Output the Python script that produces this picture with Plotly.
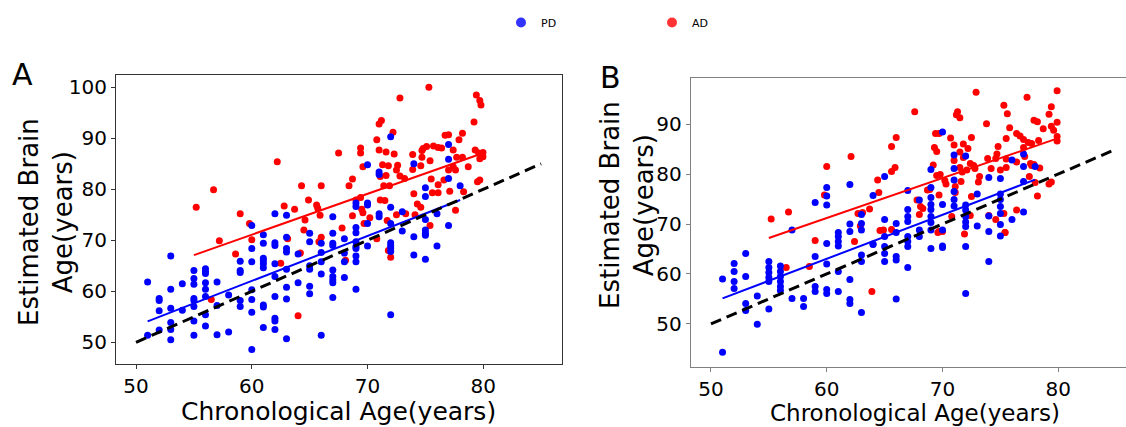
import plotly.graph_objects as go

# ---------------- Panel A data ----------------
a_pd_x = [51, 51,
          52, 52, 52, 52,
          53, 53, 53, 53, 53, 53,
          54, 54,
          55, 55, 55, 55, 55, 55, 55, 55,
          56, 56, 56, 56, 56, 56, 56, 56,
          57, 57, 57,
          58, 58,
          59, 59, 59, 59, 59,
          60, 60, 60, 60, 60, 60, 60,
          61, 61, 61, 61, 61, 61, 61, 61, 61,
          62, 62, 62, 62, 62, 62, 62, 62, 62,
          63, 63, 63, 63, 63, 63, 63, 63,
          64, 64,
          65, 65, 65, 65, 65, 65,
          66, 66, 66, 66, 66,
          67, 67, 67, 67, 67, 67, 67, 67, 67,
          68, 68, 68, 68,
          69, 69, 69, 69, 69, 69, 69, 69, 69, 69,
          70, 70, 70, 70, 70,
          71, 71, 71, 71,
          72, 72, 72, 72, 72, 72, 72, 72,
          73, 73,
          74, 74, 74,
          75, 75, 75, 75, 75, 75, 75,
          76, 76,
          77, 77, 77, 77,
          78]
a_pd_y = [61.8, 51.4,
          58.6, 58.2, 56.2, 52.4,
          66.9, 60.4, 56.7, 53.9, 52.5, 50.5,
          61.5, 56.3,
          64.1, 62.5, 61.4, 58.6, 58.2, 57.0, 54.2, 51.4,
          64.4, 63.9, 63.5, 61.7, 60.4, 59.0, 55.4, 53.2,
          61.8, 57.2, 51.5,
          59.3, 52.0,
          65.9, 64.1, 63.7, 58.2, 57.0,
          72.9, 68.4, 65.8, 60.3, 58.4, 55.9, 48.6,
          71.1, 69.4, 66.5, 66.0, 65.4, 64.6, 57.3, 56.9, 52.9,
          75.2, 69.5, 69.0, 65.4, 62.9, 59.0, 54.7, 54.2, 52.5,
          74.9, 70.6, 68.4, 67.7, 64.3, 60.8, 58.5, 50.7,
          67.3, 61.7,
          71.4, 69.7, 65.0, 64.3, 61.0, 59.5,
          69.4, 67.6, 65.8, 63.4, 51.4,
          74.6, 71.4, 69.4, 69.0, 64.2, 62.9, 62.2, 61.7, 58.8,
          70.3, 67.5, 65.8, 62.7,
          77.3, 76.6, 72.5, 71.5, 69.7, 68.8, 68.4, 66.9, 65.8, 60.4,
          84.8, 77.3, 76.9, 73.3, 68.9,
          83.4, 82.9, 75.2, 74.6,
          90.3, 76.5, 73.3, 69.5, 69.0, 68.5, 67.8, 55.4,
          75.6, 71.8,
          85.0, 70.7, 67.1,
          80.3, 78.6, 74.1, 72.0, 71.4, 71.0, 66.3,
          75.2, 68.9,
          88.8, 85.9, 82.1, 72.9,
          80.7]

a_ad_x = [55.2, 56.7, 57.2, 56.5, 58.6, 59.0, 59.8, 60.0, 62.2, 62.5,
          62.8, 63.1, 63.7, 64.0, 64.2, 64.3, 64.5, 64.6, 64.9, 65.6,
          65.7, 65.9, 66.0, 66.0, 65.8, 67.5, 67.8, 68.1, 68.4, 68.7,
          68.7, 69.0, 69.4, 69.4, 69.4, 69.5, 69.6, 69.7, 69.6, 70.2,
          70.8, 70.8, 71.0, 71.2, 71.0, 71.1, 71.1, 71.5, 71.3, 71.4,
          71.6, 71.6, 71.8, 71.9, 71.8, 72.0, 71.7, 72.2, 72.3, 72.5,
          72.6, 72.8, 72.8, 72.5, 73.2, 73.3, 73.9, 73.9, 74.0, 74.1,
          74.3, 74.6, 74.7, 74.7, 74.6, 75.3, 75.4, 75.5, 75.6, 75.4,
          74.8, 75.1, 75.7, 76.1, 76.4, 76.1, 76.1, 76.6, 76.7, 77.0,
          77.0, 77.1, 77.4, 77.4, 77.6, 77.6, 77.7, 77.9, 78.2, 78.2,
          78.3, 78.7, 79.2, 79.3, 79.6, 79.4, 79.7, 79.8, 79.7, 79.97,
          79.5, 79.7, 79.97]
a_ad_y = [76.5, 79.9, 69.9, 58.4, 67.3, 75.2, 73.3, 70.1, 85.4, 65.5,
          76.7, 70.3, 76.1, 55.2, 67.5, 80.7, 72.0, 74.0, 77.9, 76.9,
          76.3, 74.9, 80.7, 70.6, 69.7, 87.1, 72.4, 66.1, 80.7, 82.0,
          74.8, 77.9, 88.1, 87.1, 78.4, 76.1, 75.4, 73.3, 84.4, 74.4,
          70.3, 89.7, 92.8, 93.5, 87.7, 82.5, 77.9, 77.8, 84.8, 80.7,
          82.7, 87.3, 84.6, 80.7, 68.0, 66.7, 73.9, 91.2, 86.9, 83.8,
          84.7, 97.9, 82.6, 75.0, 82.1, 75.2, 86.8, 83.9, 79.1, 75.0,
          77.1, 76.5, 87.6, 86.3, 84.6, 100.0, 85.6, 82.0, 79.3, 72.9,
          88.0, 88.4, 88.5, 88.2, 88.1, 80.9, 79.3, 81.8, 90.6, 90.7,
          83.8, 79.6, 87.7, 84.4, 83.8, 75.9, 86.3, 89.7, 91.0, 86.3,
          79.5, 84.4, 93.2, 87.7, 87.1, 98.5, 97.4, 96.5, 86.0, 86.4,
          81.5, 81.8, 87.2]

# regression lines (endpoints)
a_pd_fit_x = [51, 78]
a_pd_fit_y = [54.1, 77.9]
a_ad_fit_x = [55, 80]
a_ad_fit_y = [67.1, 87.1]

# ---------------- Panel B data ----------------
b_pd_x = [51, 51,
          52, 52, 52, 52,
          53, 53, 53, 53,
          54, 54,
          55, 55, 55, 55, 55, 55,
          56, 56, 56, 56, 56, 56,
          57, 57,
          58, 58,
          59, 59, 59, 59,
          60, 60, 60, 60, 60, 60, 60,
          61, 61, 61, 61, 61, 61,
          62, 62, 62, 62, 62, 62,
          63, 63, 63, 63, 63, 63,
          64, 64, 64,
          65, 65, 65, 65, 65, 65,
          66, 66, 66, 66, 66,
          67, 67, 67, 67, 67, 67, 67, 67,
          68, 68, 68,
          69, 69, 69, 69, 69, 69, 69, 69, 69,
          70, 70, 70, 70, 70,
          71, 71, 71, 71, 71, 71,
          72, 72, 72, 72, 72, 72, 72, 72,
          73, 73,
          74, 74, 74, 74,
          75, 75, 75, 75, 75, 75, 75,
          76, 76,
          77, 77, 77, 77,
          78]
b_pd_y = [59.0, 44.3,
          62.1, 60.5, 58.5, 57.1,
          64.1, 59.5, 54.1, 52.7,
          55.6, 49.9,
          62.5, 61.3, 60.3, 59.3, 58.5, 53.0,
          61.6, 60.5, 59.5, 58.5, 57.5, 56.7,
          55.1, 68.8,
          55.1, 53.5,
          74.3, 63.5, 57.5, 56.5,
          77.3, 75.6, 73.8, 66.1, 62.0, 56.9, 56.1,
          68.3, 67.5, 66.5, 65.6, 60.5, 56.5,
          77.9, 70.0, 68.5, 58.9, 54.9, 54.1,
          52.3, 62.5, 63.8, 71.9, 70.1, 68.8,
          66.0, 75.7, 65.9,
          62.5, 65.5, 64.1, 79.5, 70.9, 67.5,
          55.0, 63.5, 62.8, 70.1, 68.3,
          61.3, 65.5, 66.5, 67.5, 76.7, 72.9, 71.5, 70.5,
          67.5, 74.8, 68.8,
          65.1, 80.9, 77.3, 75.3, 73.9, 72.9, 71.5, 70.3, 68.8,
          65.6, 88.4, 73.9, 68.8, 65.3,
          83.8, 81.1, 78.8, 76.5, 74.9, 73.6,
          65.5, 56.1, 83.6, 73.8, 72.8, 71.5, 70.4, 69.5,
          76.0, 69.6,
          62.5, 79.3, 71.6, 68.5,
          67.6, 79.1, 76.0, 74.9, 73.5, 72.1, 69.9,
          82.8, 70.9,
          84.0, 81.5, 78.5, 72.4,
          81.5]

b_ad_x = [55.2, 56.7, 59.0, 59.8, 60.0, 62.1, 62.4, 62.7, 56.5, 58.5,
          63.9, 71.9, 75.4, 69.6, 64.6,
          72.9, 67.6, 77.3, 79.9, 75.3, 75.6, 79.4, 79.2, 71.3, 71.2,
          71.5, 73.8, 77.9, 78.2, 75.8, 78.7, 79.4, 79.9, 79.6, 79.9,
          79.9, 76.4, 76.7, 77.0, 77.4, 75.5, 66.0, 65.6, 69.4, 69.7,
          70.7, 72.5, 71.0, 71.8, 72.2, 69.3, 69.5, 74.8, 77.0, 77.7,
          78.3, 74.7, 74.6, 71.5, 71.0, 71.8, 73.9, 72.4, 72.7, 72.8,
          75.5, 76.4, 77.1, 77.7, 78.4, 74.2, 75.0, 75.5, 77.6, 77.9,
          65.6, 65.9, 64.4, 64.5, 63.7, 69.2, 69.5, 69.8, 68.9, 69.7,
          70.3, 71.1, 71.6, 71.1, 71.5, 71.7, 72.1, 73.2, 73.1, 67.8,
          68.1, 68.3, 68.0, 68.7, 70.2, 72.5, 72.4, 70.8, 70.0, 69.7,
          74.0, 74.6, 75.4, 75.3, 76.4, 77.5, 78.0, 79.2, 79.4, 78.2,
          62.9, 63.1, 64.9, 65.6]
b_ad_y = [71.0, 72.4, 66.7, 75.8, 81.5, 83.5, 66.5, 72.1, 61.3, 61.5,
          56.5, 68.0, 68.3, 68.3, 68.7,
          96.4, 92.5, 95.4, 96.7, 93.8, 92.1, 93.5, 92.0, 92.5, 91.9,
          91.3, 90.1, 90.8, 90.5, 89.3, 89.1, 89.6, 90.4, 88.8, 87.5,
          86.6, 88.1, 87.6, 86.9, 86.3, 87.1, 87.3, 85.5, 88.1, 88.1,
          87.2, 87.3, 85.8, 86.0, 85.1, 85.3, 84.5, 85.5, 85.3, 86.1,
          86.7, 84.0, 83.1, 84.4, 82.7, 83.3, 83.1, 82.1, 81.7, 81.1,
          83.0, 82.4, 83.5, 81.7, 81.2, 81.1, 80.8, 81.3, 82.1, 81.9,
          80.5, 81.3, 78.8, 76.3, 73.0, 81.8, 79.7, 79.9, 76.9, 75.8,
          78.0, 77.5, 78.5, 76.3, 81.3, 80.4, 80.8, 79.5, 78.4, 74.8,
          73.5, 73.1, 71.9, 76.8, 78.7, 75.5, 71.7, 71.5, 68.5, 68.5,
          71.7, 70.9, 68.3, 72.1, 72.8, 79.5, 78.3, 78.0, 78.4, 75.6,
          69.6, 72.3, 68.8, 68.9]

b_pd_fit_x = [51, 78]
b_pd_fit_y = [55.1, 78.9]
b_ad_fit_x = [55, 80]
b_ad_fit_y = [67.2, 87.2]

identity_x = [50, 85]
identity_y = [50, 85]

x_ticks = [50, 60, 70, 80]
a_y_ticks = [50, 60, 70, 80, 90, 100]
b_y_ticks = [50, 60, 70, 80, 90]

BLUE = "#0000ff"
RED = "#ff0000"
FONT = "DejaVu Sans"

fig = go.Figure()

def add_panel(xa, ya, pd_x, pd_y, ad_x, ad_y, pdfx, pdfy, adfx, adfy):
    fig.add_trace(go.Scatter(x=ad_x, y=ad_y, mode="markers", name="AD",
                             marker=dict(color=RED, size=7, line=dict(width=0)),
                             xaxis=xa, yaxis=ya, showlegend=False))
    fig.add_trace(go.Scatter(x=pd_x, y=pd_y, mode="markers", name="PD",
                             marker=dict(color=BLUE, size=7, line=dict(width=0)),
                             xaxis=xa, yaxis=ya, showlegend=False))
    fig.add_trace(go.Scatter(x=adfx, y=adfy, mode="lines", line=dict(color=RED, width=2),
                             xaxis=xa, yaxis=ya, showlegend=False))
    fig.add_trace(go.Scatter(x=pdfx, y=pdfy, mode="lines", line=dict(color=BLUE, width=2),
                             xaxis=xa, yaxis=ya, showlegend=False))
    fig.add_trace(go.Scatter(x=identity_x, y=identity_y, mode="lines",
                             line=dict(color="black", width=3, dash="11px,6px"),
                             xaxis=xa, yaxis=ya, showlegend=False))

add_panel("x", "y", a_pd_x, a_pd_y, a_ad_x, a_ad_y,
          a_pd_fit_x, a_pd_fit_y, a_ad_fit_x, a_ad_fit_y)
add_panel("x2", "y2", b_pd_x, b_pd_y, b_ad_x, b_ad_y,
          b_pd_fit_x, b_pd_fit_y, b_ad_fit_x, b_ad_fit_y)

# legend entries
fig.add_trace(go.Scatter(x=[None], y=[None], mode="markers", name="PD",
                         marker=dict(color=BLUE, size=10, opacity=0.8), showlegend=True))
fig.add_trace(go.Scatter(x=[None], y=[None], mode="markers", name="AD",
                         marker=dict(color=RED, size=10, opacity=0.8), showlegend=True))

W, H = 1126, 427
def px_x(p):
    return p / W
def px_y(p):
    return 1 - p / H

axis_common = dict(showgrid=False, zeroline=False, showline=True, mirror=True,
                   ticks="outside", ticklen=4, tickwidth=1,
                   tickfont=dict(family=FONT, size=20, color="black"))

fig.update_layout(
    width=W, height=H,
    margin=dict(l=0, r=0, t=0, b=0),
    paper_bgcolor="white", plot_bgcolor="white",
    font=dict(family=FONT, color="black"),
    showlegend=True,
    legend=dict(orientation="h", x=px_x(501), y=px_y(8), xanchor="left", yanchor="top",
                entrywidth=106, entrywidthmode="pixels",
                font=dict(family=FONT, size=11, color="black"),
                bgcolor="rgba(0,0,0,0)"),
    xaxis=dict(domain=[px_x(116), px_x(562)], range=[48.27, 86.8],
               tickvals=x_ticks, anchor="y", linecolor="#333333", tickcolor="#333333",
               **axis_common),
    yaxis=dict(domain=[px_y(364), px_y(74.5)], range=[45.75, 102.5],
               tickvals=a_y_ticks, anchor="x", linecolor="#333333", tickcolor="#333333",
               **axis_common),
    xaxis2=dict(domain=[px_x(690.7), 1.0], range=[48.25, 85.85],
                tickvals=x_ticks, anchor="y2", linecolor="#808080", tickcolor="#808080",
                **axis_common),
    yaxis2=dict(domain=[px_y(367.3), px_y(77.7)], range=[41.3, 99.3],
                tickvals=b_y_ticks, anchor="x2", linecolor="#808080", tickcolor="#808080",
                **axis_common),
)

common_ann = dict(xref="paper", yref="paper", showarrow=False,
                  xanchor="center", yanchor="middle", borderpad=0)
fig.add_annotation(text="Estimated Brain<br>Age(years)", textangle=-90,
                   x=px_x(46), y=px_y(222), font=dict(family=FONT, size=26, color="black"),
                   **common_ann)
fig.add_annotation(text="Estimated Brain<br>Age(years)", textangle=-90,
                   x=px_x(627), y=px_y(205), font=dict(family=FONT, size=26, color="black"),
                   **common_ann)
fig.add_annotation(text="Chronological Age(years)",
                   x=px_x(338), y=px_y(411), font=dict(family=FONT, size=25, color="black"),
                   **common_ann)
fig.add_annotation(text="Chronological Age(years)",
                   x=px_x(915), y=px_y(413), font=dict(family=FONT, size=23, color="black"),
                   **common_ann)
fig.add_annotation(text="A", x=px_x(22), y=px_y(75),
                   font=dict(family=FONT, size=30, color="black"), **common_ann)
fig.add_annotation(text="B", x=px_x(610), y=px_y(78),
                   font=dict(family=FONT, size=30, color="black"), **common_ann)

fig.write_html("out.html", config={"displayModeBar": False},
               post_script="document.body.style.margin='0';document.body.style.overflow='hidden';")
